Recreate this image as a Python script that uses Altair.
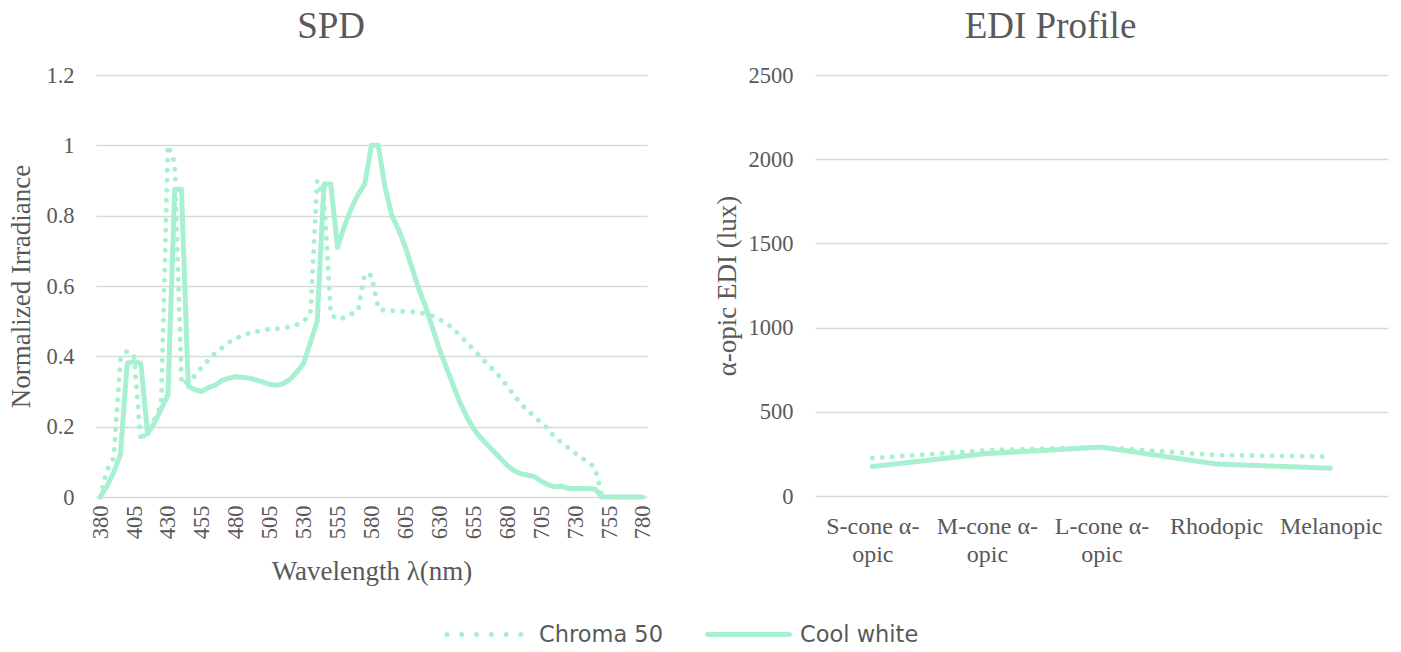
import altair as alt
import pandas as pd

# Spectral power distributions, normalised, sampled every 5 nm
wavelengths = list(range(380, 781, 5))

chroma_50 = [
    0.00, 0.075, 0.11, 0.39, 0.415, 0.40, 0.16, 0.19, 0.22, 0.26,
    1.00, 0.95, 0.32, 0.33, 0.345, 0.37, 0.39, 0.41, 0.425, 0.44,
    0.45, 0.46, 0.466, 0.47, 0.475, 0.478, 0.478, 0.48, 0.484, 0.49,
    0.50, 0.52, 0.90, 0.85, 0.52, 0.505, 0.51, 0.52, 0.53, 0.635,
    0.63, 0.535, 0.53, 0.53, 0.528, 0.527, 0.527, 0.525, 0.52, 0.515,
    0.505, 0.495, 0.48, 0.46, 0.44, 0.42, 0.40, 0.38, 0.36, 0.34,
    0.315, 0.29, 0.265, 0.245, 0.23, 0.21, 0.195, 0.17, 0.155, 0.14,
    0.125, 0.11, 0.10, 0.08, 0.00, 0.00, 0.00, 0.00, 0.00, 0.00,
    0.00,
]

cool_white = [
    0.00, 0.03, 0.07, 0.12, 0.38, 0.385, 0.38, 0.18, 0.21, 0.25,
    0.29, 0.875, 0.875, 0.315, 0.305, 0.30, 0.312, 0.318, 0.332, 0.338,
    0.342, 0.34, 0.338, 0.333, 0.327, 0.32, 0.318, 0.322, 0.335, 0.355,
    0.38, 0.44, 0.50, 0.89, 0.89, 0.71, 0.77, 0.82, 0.86, 0.89,
    1.00, 1.00, 0.88, 0.80, 0.76, 0.71, 0.65, 0.59, 0.54, 0.48,
    0.42, 0.37, 0.32, 0.27, 0.23, 0.195, 0.17, 0.15, 0.13, 0.11,
    0.09, 0.075, 0.066, 0.062, 0.058, 0.045, 0.035, 0.029, 0.031, 0.024,
    0.024, 0.024, 0.024, 0.022, 0.00, 0.00, 0.00, 0.00, 0.00, 0.00,
    0.00,
]

# alpha-opic equivalent daylight illuminance (lux)
edi_categories = ["S-cone α-opic", "M-cone α-opic", "L-cone α-opic", "Rhodopic", "Melanopic"]
edi_chroma_50 = [225, 272, 290, 243, 234]
edi_cool_white = [175, 252, 290, 190, 165]

series_names = ["Chroma 50", "Cool white"]
wavelength_ticks = list(range(380, 781, 25))
spd_ticks = [0, 0.2, 0.4, 0.6, 0.8, 1.0, 1.2]
edi_ticks = [0, 500, 1000, 1500, 2000, 2500]

MINT = "#A7F0D0"
TEXT = "#595959"
GRID = "#D9D9D9"
SERIF = "Liberation Serif"
SANS = "DejaVu Sans"

spd = pd.concat([
    pd.DataFrame({"wavelength": wavelengths, "value": chroma_50, "series": series_names[0]}),
    pd.DataFrame({"wavelength": wavelengths, "value": cool_white, "series": series_names[1]}),
])
edi = pd.concat([
    pd.DataFrame({"category": edi_categories, "lux": edi_chroma_50, "series": series_names[0]}),
    pd.DataFrame({"category": edi_categories, "lux": edi_cool_white, "series": series_names[1]}),
])

# Legend glyphs in Vega's [-1, 1] symbol space: a row of round dots, and a round-capped bar
DOT_R = 0.06
dot_row = "".join(
    f"M{-0.931 + k * 0.340 - DOT_R:.4f},0a{DOT_R},{DOT_R} 0 1,0 {2 * DOT_R},0a{DOT_R},{DOT_R} 0 1,0 {-2 * DOT_R},0"
    for k in range(6)
)
BAR_H = 0.0575
solid_bar = (
    f"M{-1 + BAR_H},{-BAR_H}L{1 - BAR_H},{-BAR_H}"
    f"A{BAR_H},{BAR_H} 0 0 1 {1 - BAR_H},{BAR_H}"
    f"L{-1 + BAR_H},{BAR_H}A{BAR_H},{BAR_H} 0 0 1 {-1 + BAR_H},{-BAR_H}Z"
)

legend = alt.Legend(
    title=None, orient="none", legendX=348, legendY=516, direction="horizontal",
    symbolSize=7569, symbolStrokeWidth=0, symbolFillColor=MINT, symbolOpacity=1,
    labelFont=SANS, labelFontSize=22.5, labelColor=TEXT, labelOffset=8,
    columnPadding=42, padding=0,
)

color = alt.Color("series:N", scale=alt.Scale(domain=series_names, range=[MINT, MINT]), legend=None)
dash = alt.StrokeDash("series:N", scale=alt.Scale(domain=series_names, range=[[0.01, 10], [1, 0]]), legend=None)

line_style = dict(strokeWidth=5, strokeCap="round", strokeJoin="round")


def y_axis(title, values, fmt, title_pad):
    return alt.Axis(
        values=values, format=fmt, title=title, grid=True, gridColor=GRID, gridWidth=1.5,
        domain=False, ticks=False, labelPadding=22, labelFont=SERIF, labelFontSize=22.5,
        labelColor=TEXT, titleFont=SERIF, titleFontSize=27, titleFontWeight="normal",
        titleColor=TEXT, titlePadding=title_pad,
    )


def panel_title(text):
    return alt.TitleParams(text, font=SERIF, fontSize=37, fontWeight="normal", color=TEXT,
                           offset=18, frame="bounds", anchor="middle")


spd_x = alt.X(
    "wavelength:Q",
    scale=alt.Scale(domain=[377, 783], nice=False, zero=False),
    axis=alt.Axis(
        values=wavelength_ticks, labelAngle=270, grid=False, domain=False, ticks=False,
        labelFlush=False, labelOverlap=False, labelPadding=8,
        labelFont=SERIF, labelFontSize=22.5, labelColor=TEXT,
        title="Wavelength λ(nm)", titleFont=SERIF, titleFontSize=27,
        titleFontWeight="normal", titleColor=TEXT, titlePadding=20,
    ),
)
spd_y = alt.Y("value:Q", scale=alt.Scale(domain=[0, 1.2], nice=False),
              axis=y_axis("Normalized Irradiance", spd_ticks, ".1~f", 10))

spd_lines = alt.Chart(spd).mark_line(**line_style).encode(
    x=spd_x, y=spd_y, color=color, strokeDash=dash,
)

# Series key: transparent points whose shape scale carries the legend glyphs
series_key = alt.Chart(spd).mark_point(filled=True, opacity=0, color=MINT).encode(
    x=spd_x, y=spd_y,
    shape=alt.Shape("series:N", scale=alt.Scale(domain=series_names, range=[dot_row, solid_bar]),
                    legend=legend),
)

spd_chart = alt.layer(series_key, spd_lines, title=panel_title("SPD")).properties(width=551, height=422)

split_label = (
    "indexof(datum.label, 'α-') >= 0 ? "
    "[substring(datum.label, 0, indexof(datum.label, 'α-') + 2), "
    "substring(datum.label, indexof(datum.label, 'α-') + 2)] : datum.label"
)

edi_chart = alt.Chart(edi, title=panel_title("EDI Profile")).mark_line(**line_style).encode(
    x=alt.X(
        "category:N", sort=edi_categories,
        scale=alt.Scale(type="point", padding=0.5),
        axis=alt.Axis(
            title=None, labelAngle=0, labelExpr=split_label, grid=False, domain=False,
            ticks=False, labelPadding=18, labelLineHeight=28, labelBaseline="top",
            labelFont=SERIF, labelFontSize=24, labelColor=TEXT,
        ),
    ),
    y=alt.Y("lux:Q", scale=alt.Scale(domain=[0, 2500], nice=False),
            axis=y_axis("α-opic EDI (lux)", edi_ticks, "d", 7)),
    color=color,
    strokeDash=dash,
).properties(width=573, height=421)

chart = alt.hconcat(spd_chart, edi_chart, spacing=58).resolve_scale(
    color="shared", strokeDash="shared"
).properties(
    padding={"left": 7, "top": 8, "right": 5, "bottom": 5},
    background="white",
).configure_view(stroke=None)

chart.save("out.html", embed_options={"renderer": "svg", "actions": False})
